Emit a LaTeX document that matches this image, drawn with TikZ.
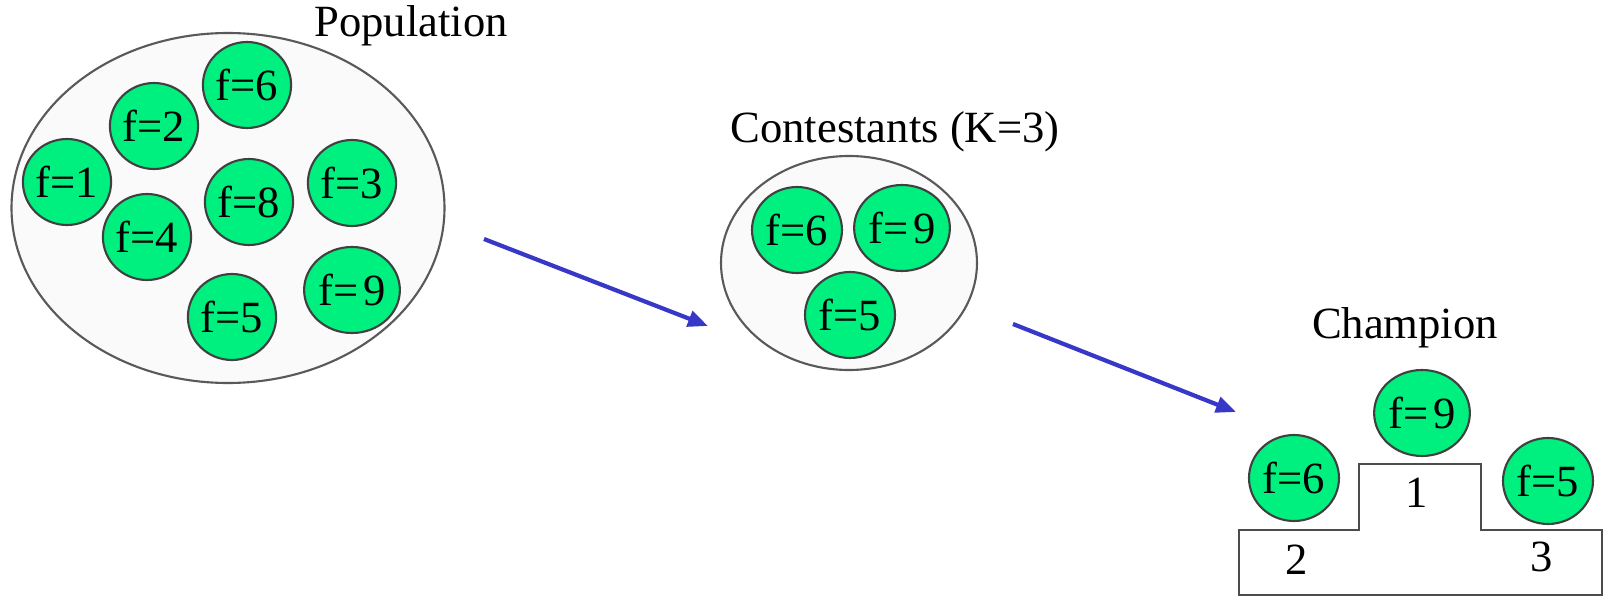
\documentclass[tikz,border=0pt]{standalone}
\usepackage{fontspec}
\setmainfont{Liberation Serif}
\usetikzlibrary{arrows.meta,shapes.geometric}
\definecolor{indivgreen}{RGB}{0,240,128}
\definecolor{poolgrey}{RGB}{250,250,250}
\definecolor{arrowblue}{RGB}{55,55,200}
\newcommand{\fnine}{f=\kern.12em 9}
\tikzset{
  pool/.style={ellipse,draw=black!65,fill=poolgrey,line width=.6pt,inner sep=0pt},
  indiv/.style={ellipse,draw=black!75,fill=indivgreen,line width=.6pt,inner sep=0pt,
                minimum width=9mm,minimum height=8.6mm},
  title/.style={anchor=base,inner sep=0pt},
  select/.style={-{Triangle[length=2mm,width=1.6mm]},draw=arrowblue,fill=arrowblue,
                 line width=1.2pt},
  podium/.style={draw=black!70,line width=.8pt},
}

\begin{document}
\begin{tikzpicture}[x=0.1mm,y=-0.1mm,font=\fontsize{12.7}{15}\selectfont]
  \useasboundingbox (0,0) rectangle (1608,597);
  % population
  \node[pool,minimum width=43.3mm,minimum height=35mm] (pop) at (228,208) {};
  \node[title] (poptitle) at (411,37) {Population};
  \foreach \nm/\txt/\x/\y in {popA/{f=6}/247/85, popB/{f=2}/154/126, popC/{f=1}/67/182,
      popD/{f=4}/147/237, popE/{f=8}/249/202, popF/{f=3}/352/183,
      popG/{\fnine}/352/290, popH/{f=5}/232/317}
    \node[indiv,minimum width=8.7mm] (\nm) at (\x,\y) {\txt};
  % contestants
  \node[pool,minimum width=25.6mm,minimum height=21.4mm] (cont) at (849,263) {};
  \node[title] (conttitle) at (895,142) {Contestants (K=3)};
  \node[indiv] (contA) at (797,230) {f=6};
  \node[indiv] (contB) at (902,228) {\fnine};
  \node[indiv] (contC) at (850,315) {f=5};
  % champion
  \node[title] (champtitle) at (1405,338) {Champion};
  \draw[podium] (1239,595) -- (1239,530) -- (1359,530) -- (1359,464) -- (1481,464)
    -- (1481,530) -- (1602,530) -- (1602,595) -- cycle;
  \node (place1) at (1417,493) {1};
  \node (place2) at (1297,560) {2};
  \node (place3) at (1542,557) {3};
  \node[indiv] (champA) at (1422,413) {\fnine};
  \node[indiv] (champB) at (1294,478) {f=6};
  \node[indiv] (champC) at (1548,481) {f=5};
  % selection arrows
  \coordinate (popout) at (484,239);
  \coordinate (contin) at (708,326);
  \coordinate (contout) at (1013,324);
  \coordinate (champin) at (1236,412);
  \draw[select] (popout) -- (contin);
  \draw[select] (contout) -- (champin);
\end{tikzpicture}
\end{document}
